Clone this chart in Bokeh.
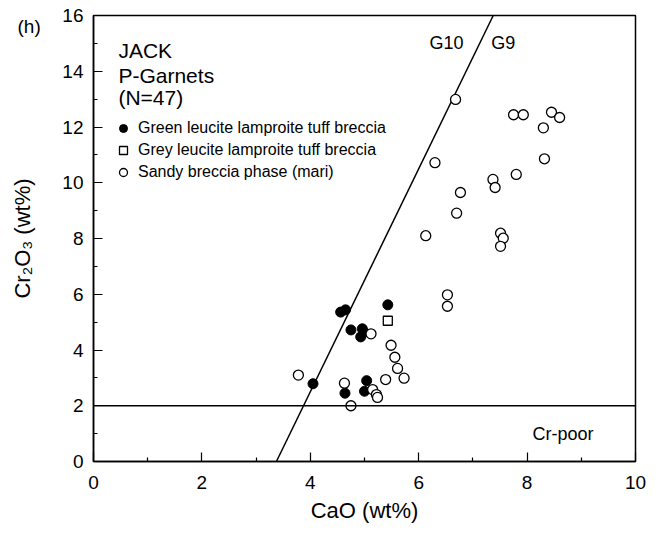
from bokeh.plotting import figure
from bokeh.models import (Label, Span, FixedTicker, Legend, LegendItem, Title)
from bokeh.embed import file_html
from bokeh.resources import INLINE

# ---- data ----
green_cao = [5.43, 4.56, 4.65, 4.75, 4.96, 4.99, 4.93, 4.05, 5.04, 4.64, 5.00]
green_cr = [5.62, 5.36, 5.44, 4.72, 4.76, 4.64, 4.47, 2.79, 2.90, 2.45, 2.52]

grey_cao = [5.43]
grey_cr = [5.05]

sandy_cao = [5.12, 5.49, 5.56, 5.61, 5.73, 5.39, 3.78, 4.63, 5.15, 5.22, 5.24, 4.75,
             6.68, 7.75, 7.93, 8.45, 8.60, 8.30, 6.30, 8.32, 7.80, 7.37, 7.41, 6.77,
             6.70, 6.13, 7.51, 7.56, 7.51, 6.53, 6.53]
sandy_cr = [4.58, 4.17, 3.74, 3.34, 2.99, 2.94, 3.10, 2.81, 2.58, 2.40, 2.30, 2.00,
            12.99, 12.44, 12.44, 12.53, 12.34, 11.97, 10.72, 10.86, 10.30, 10.12, 9.83, 9.65,
            8.91, 8.10, 8.19, 8.01, 7.72, 5.98, 5.57]

# G10/G9 dividing line: CaO = 3.375 + 0.25 * Cr2O3
g_line_cr = [0, 16]
g_line_cao = [3.375 + 0.25 * c for c in g_line_cr]
cr_poor_limit = 2.0

x_ticks = [0, 2, 4, 6, 8, 10]
x_minor = [1, 3, 5, 7, 9]
y_ticks = [0, 2, 4, 6, 8, 10, 12, 14, 16]
y_minor = [1, 3, 5, 7, 9, 11, 13, 15]

FONT = "Liberation Sans"

p = figure(width=655, height=532, output_backend="svg", toolbar_location=None,
           x_range=(0, 10), y_range=(0, 16),
           min_border_left=93, min_border_right=20, min_border_top=15, min_border_bottom=71)
p.background_fill_color = "white"
p.border_fill_color = "white"
p.grid.visible = False
p.outline_line_color = "black"
p.outline_line_width = 1.5

title = Title(text="(h)", align="left", offset=-76, standoff=-42,
              text_font=FONT, text_font_size="19px", text_font_style="normal",
              text_color="black", text_line_height=2.2)
p.add_layout(title, "above")

for ax in (p.xaxis[0], p.yaxis[0]):
    ax.axis_line_color = "black"
    ax.axis_line_width = 1.5
    ax.major_tick_in = 9
    ax.major_tick_out = 0
    ax.minor_tick_in = 4
    ax.minor_tick_out = 0
    ax.major_tick_line_color = "black"
    ax.minor_tick_line_color = "black"
    ax.major_tick_line_width = 1.2
    ax.minor_tick_line_width = 1.2
    ax.major_label_text_font = FONT
    ax.major_label_text_font_size = "19px"
    ax.major_label_text_color = "black"
    ax.axis_label_text_font = FONT
    ax.axis_label_text_font_size = "22px"
    ax.axis_label_text_font_style = "normal"
    ax.axis_label_text_color = "black"

p.xaxis.ticker = FixedTicker(ticks=x_ticks, minor_ticks=x_minor)
p.yaxis.ticker = FixedTicker(ticks=y_ticks, minor_ticks=y_minor)
p.xaxis.axis_label = "CaO (wt%)"
p.yaxis.axis_label = "Cr\u2082O\u2083 (wt%)"
p.xaxis.major_label_standoff = 14
p.xaxis.axis_label_standoff = 6
p.yaxis.major_label_standoff = 10
p.yaxis.axis_label_standoff = 24

# reference lines
p.line(g_line_cao, g_line_cr, line_color="black", line_width=1.5)
p.add_layout(Span(location=cr_poor_limit, dimension="width", line_color="black", line_width=1.5))

# points
r_green = p.scatter(green_cao, green_cr, marker="circle", size=10,
                    fill_color="black", line_color="black")
r_grey = p.scatter(grey_cao, grey_cr, marker="square", size=9,
                   fill_color="white", line_color="black", line_width=1.3)
r_sandy = p.scatter(sandy_cao, sandy_cr, marker="circle", size=10,
                    fill_color="white", line_color="black", line_width=1.3)

legend = Legend(items=[
    LegendItem(label="Green leucite lamproite tuff breccia", renderers=[r_green]),
    LegendItem(label="Grey leucite lamproite tuff breccia", renderers=[r_grey]),
    LegendItem(label="Sandy breccia phase (mari)", renderers=[r_sandy]),
], location=(20, 279), glyph_width=20, glyph_height=20, label_height=20, spacing=2,
    padding=0, margin=0, label_standoff=5, border_line_color=None,
    background_fill_alpha=0, label_text_font=FONT, label_text_font_size="16px",
    label_text_color="black")
p.add_layout(legend, "center")

def lab(x, y, text, size):
    p.add_layout(Label(x=x, y=y, text=text, text_font=FONT, text_font_size=size,
                       text_color="black", text_baseline="alphabetic", text_align="left"))

lab(0.46, 14.74, "JACK", "21px")
lab(0.46, 13.85, "P-Garnets", "21px")
lab(0.46, 13.07, "(N=47)", "21px")
lab(6.20, 15.0, "G10", "18px")
lab(7.34, 15.0, "G9", "18px")
lab(8.10, 1.0, "Cr-poor", "18px")

open("out.html", "w").write(file_html(p, INLINE))
